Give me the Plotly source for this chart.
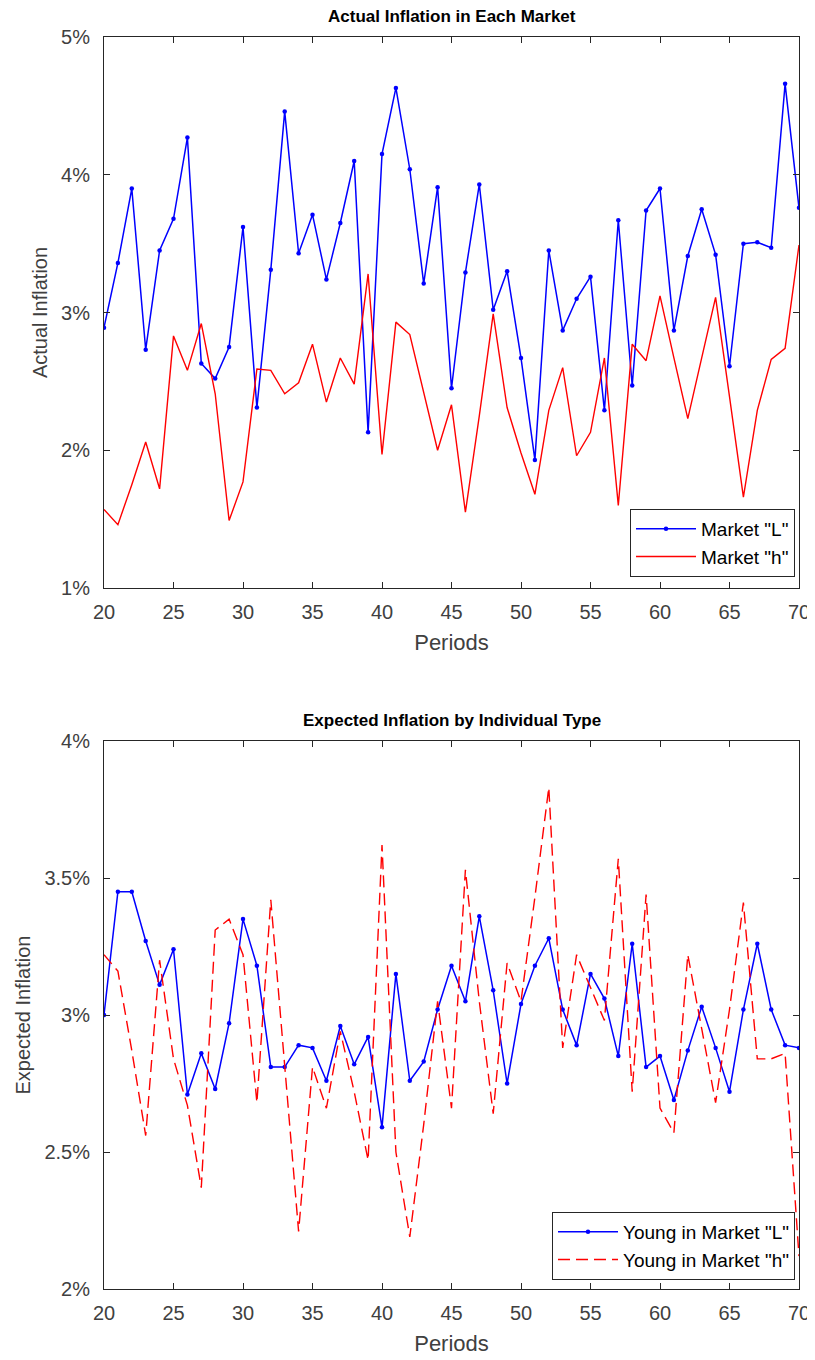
import plotly.graph_objects as go

periods = list(range(20, 71))

actual_L = [2.89, 3.36, 3.90, 2.73, 3.45, 3.68, 4.27, 2.63, 2.52, 2.75,
            3.62, 2.31, 3.31, 4.46, 3.43, 3.71, 3.24, 3.65, 4.10, 2.13,
            4.15, 4.63, 4.04, 3.21, 3.91, 2.45, 3.29, 3.93, 3.02, 3.30,
            2.67, 1.93, 3.45, 2.87, 3.10, 3.26, 2.29, 3.67, 2.47, 3.74,
            3.90, 2.87, 3.41, 3.75, 3.42, 2.61, 3.50, 3.51, 3.47, 4.66,
            3.76]

actual_h = [1.57, 1.46, 1.75, 2.06, 1.72, 2.83, 2.58, 2.92, 2.41, 1.49,
            1.77, 2.59, 2.58, 2.41, 2.49, 2.77, 2.35, 2.67, 2.48, 3.28,
            1.97, 2.93, 2.84, 2.42, 2.00, 2.33, 1.55, 2.25, 2.99, 2.31,
            1.98, 1.68, 2.29, 2.60, 1.96, 2.13, 2.67, 1.60, 2.77, 2.65,
            3.12, 2.67, 2.23, 2.67, 3.11, 2.39, 1.66, 2.29, 2.66, 2.74,
            3.49]

expected_L = [3.00, 3.45, 3.45, 3.27, 3.11, 3.24, 2.71, 2.86, 2.73, 2.97,
              3.35, 3.18, 2.81, 2.81, 2.89, 2.88, 2.76, 2.96, 2.82, 2.92,
              2.59, 3.15, 2.76, 2.83, 3.02, 3.18, 3.05, 3.36, 3.09, 2.75,
              3.04, 3.18, 3.28, 3.02, 2.89, 3.15, 3.06, 2.85, 3.26, 2.81,
              2.85, 2.69, 2.87, 3.03, 2.88, 2.72, 3.02, 3.26, 3.02, 2.89,
              2.88]

expected_h = [3.22, 3.16, 2.87, 2.56, 3.20, 2.84, 2.67, 2.37, 3.31, 3.35,
              3.22, 2.68, 3.42, 2.80, 2.21, 2.81, 2.66, 2.94, 2.72, 2.47,
              3.62, 2.50, 2.19, 2.60, 3.05, 2.66, 3.53, 3.05, 2.64, 3.19,
              3.05, 3.43, 3.83, 2.88, 3.22, 3.10, 2.98, 3.57, 2.72, 3.44,
              2.66, 2.57, 3.22, 2.95, 2.68, 3.02, 3.41, 2.84, 2.84, 2.86,
              2.12]

x_ticks = list(range(20, 71, 5))
top_y_ticks = [1, 2, 3, 4, 5]
top_y_labels = ["1%", "2%", "3%", "4%", "5%"]
bot_y_ticks = [2, 2.5, 3, 3.5, 4]
bot_y_labels = ["2%", "2.5%", "3%", "3.5%", "4%"]

# page has an 8px body margin; size the figure so it fills the 815x1360 window
OFF = 8
W, H = 815 - OFF, 1360 - OFF
FONT = "Liberation Sans, Arial, Helvetica, sans-serif"
AX = "#262626"
TXT = "#404040"


def px(x):
    return (x - OFF) / W


def py(y):
    return 1 - (y - OFF) / H


fig = go.Figure()

fig.add_trace(go.Scatter(x=periods, y=actual_L, mode="lines+markers",
                         name='Market "L"', line=dict(color="#0000ff", width=1.5),
                         marker=dict(color="#0000ff", size=4.5),
                         xaxis="x", yaxis="y", legend="legend"))
fig.add_trace(go.Scatter(x=periods, y=actual_h, mode="lines",
                         name='Market "h"', line=dict(color="#ff0000", width=1.4),
                         xaxis="x", yaxis="y", legend="legend"))
fig.add_trace(go.Scatter(x=periods, y=expected_L, mode="lines+markers",
                         name='Young in Market "L"', line=dict(color="#0000ff", width=1.5),
                         marker=dict(color="#0000ff", size=4.5),
                         xaxis="x2", yaxis="y2", legend="legend2"))
fig.add_trace(go.Scatter(x=periods, y=expected_h, mode="lines",
                         name='Young in Market "h"',
                         line=dict(color="#ff0000", width=1.4, dash="12px,6px"),
                         xaxis="x2", yaxis="y2", legend="legend2"))


def xax(domain, anchor):
    return dict(domain=domain, range=[20, 70], tickvals=x_ticks, anchor=anchor,
                ticks="inside", ticklen=6, tickcolor=AX, mirror="ticks",
                showline=True, linecolor=AX, linewidth=1, showgrid=False,
                zeroline=False, automargin=False,
                tickfont=dict(family=FONT, size=20, color=TXT),
                ticklabelstandoff=6,
                title=dict(text="Periods", font=dict(family=FONT, size=22, color=TXT),
                           standoff=12))


def yax(domain, rng, tv, tt, title, anchor):
    return dict(domain=domain, range=rng, tickvals=tv, ticktext=tt, anchor=anchor,
                ticks="inside", ticklen=6, tickcolor=AX, mirror="ticks",
                showline=True, linecolor=AX, linewidth=1, showgrid=False,
                zeroline=False, automargin=False,
                tickfont=dict(family=FONT, size=20, color=TXT),
                ticklabelstandoff=9,
                title=dict(text=title, font=dict(family=FONT, size=20, color=TXT),
                           standoff=8))


AX_L, AX_R = 104, 799
top_dom = [py(588), py(37)]
bot_dom = [py(1289), py(741)]

fig.update_layout(
    width=W, height=H,
    margin=dict(l=0, r=0, t=0, b=0),
    paper_bgcolor="white", plot_bgcolor="white",
    font=dict(family=FONT, color=TXT),
    xaxis=xax([px(AX_L), px(AX_R)], "y"),
    yaxis=yax(top_dom, [1, 5], top_y_ticks, top_y_labels, "Actual Inflation", "x"),
    xaxis2=xax([px(AX_L), px(AX_R)], "y2"),
    yaxis2=yax(bot_dom, [2, 4], bot_y_ticks, bot_y_labels, "Expected Inflation", "x2"),
    legend=dict(x=px(795), y=py(577), xanchor="right", yanchor="bottom",
                bgcolor="white", bordercolor=AX, borderwidth=1,
                font=dict(family=FONT, size=19, color="#000000"),
                itemwidth=60, tracegroupgap=0),
    legend2=dict(x=px(795), y=py(1280), xanchor="right", yanchor="bottom",
                 bgcolor="white", bordercolor=AX, borderwidth=1,
                 font=dict(family=FONT, size=19, color="#000000"),
                 itemwidth=60, tracegroupgap=0),
    showlegend=True,
    annotations=[
        dict(text="<b>Actual Inflation in Each Market</b>", x=px((AX_L + AX_R) / 2),
             y=py(17), xref="paper", yref="paper", showarrow=False,
             xanchor="center", yanchor="middle",
             font=dict(family=FONT, size=17, color="#000000")),
        dict(text="<b>Expected Inflation by Individual Type</b>", x=px((AX_L + AX_R) / 2),
             y=py(721), xref="paper", yref="paper", showarrow=False,
             xanchor="center", yanchor="middle",
             font=dict(family=FONT, size=17, color="#000000")),
    ],
)

fig.write_html("out.html")
